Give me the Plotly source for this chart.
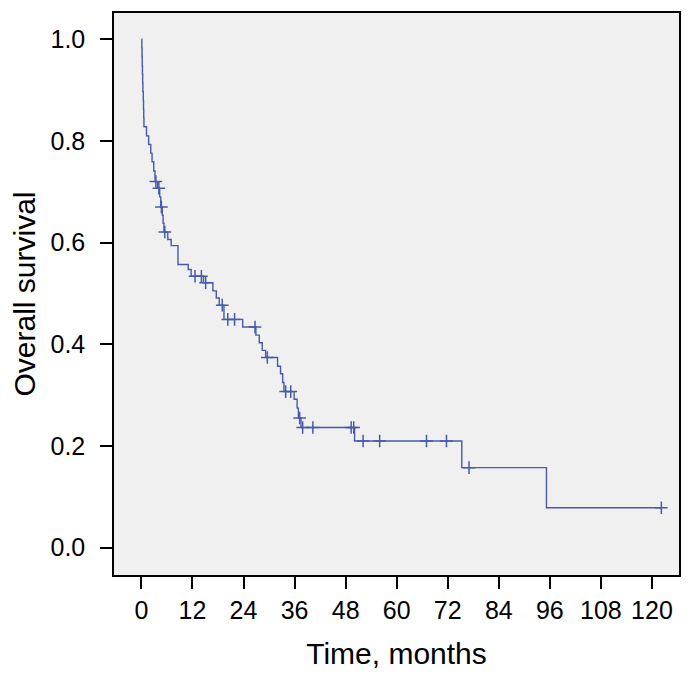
import plotly.graph_objects as go

# Kaplan-Meier step points (time in months, survival after the drop)
event_times = [0.1, 0.15, 0.2, 0.25, 0.3, 0.35, 0.45, 0.5, 0.55, 0.6,
               1.2, 1.7, 2.2, 2.5, 2.9, 3.2, 3.8, 4.3, 4.55, 4.9, 5.1, 5.3,
               6.2, 7.0, 8.6, 11.0, 11.7, 14.6, 16.8, 17.6, 18.3, 19.4,
               23.8, 26.9, 27.7, 28.4, 29.2, 32.0, 32.7, 33.2, 33.5,
               35.9, 36.6, 36.9, 37.5, 50.1, 75.3, 95.2]
event_surv = [0.983, 0.966, 0.948, 0.931, 0.914, 0.897, 0.879, 0.862, 0.845, 0.828,
              0.81, 0.793, 0.776, 0.759, 0.741, 0.72, 0.707, 0.69, 0.67, 0.654, 0.638, 0.621,
              0.606, 0.594, 0.557, 0.547, 0.534, 0.521, 0.505, 0.491, 0.477, 0.449,
              0.434, 0.418, 0.403, 0.388, 0.374, 0.357, 0.342, 0.325, 0.307,
              0.292, 0.2745, 0.255, 0.2365, 0.2098, 0.1574, 0.0787]

# Censored observations
censor_times = [3.4, 4.1, 4.7, 5.5, 12.6, 14.1, 15.1, 19.0, 20.3, 21.9, 26.7,
                29.6, 33.9, 35.1, 37.2, 37.9, 40.3, 49.3, 49.9,
                52.1, 56.0, 67.0, 71.7, 77.0, 122.2]
censor_surv = [0.72, 0.707, 0.67, 0.621, 0.534, 0.534, 0.521, 0.477, 0.449, 0.449, 0.434,
               0.374, 0.307, 0.307, 0.255, 0.2365, 0.2365, 0.2365, 0.2365,
               0.2098, 0.2098, 0.2098, 0.2098, 0.1574, 0.0787]

x_ticks = [0, 12, 24, 36, 48, 60, 72, 84, 96, 108, 120]
y_ticks = [0.0, 0.2, 0.4, 0.6, 0.8, 1.0]

line_color = "#4659ad"
font_family = "Liberation Sans, Arial, Helvetica, sans-serif"

curve_x = [0] + event_times + [max(censor_times)]
curve_y = [1.0] + event_surv + [event_surv[-1]]

fig = go.Figure()
fig.add_trace(go.Scatter(x=curve_x, y=curve_y, mode="lines", line_shape="hv",
                         line=dict(color=line_color, width=1.4), showlegend=False,
                         hoverinfo="skip"))
fig.add_trace(go.Scatter(x=censor_times, y=censor_surv, mode="markers",
                         marker=dict(symbol="cross-thin", size=9,
                                     line=dict(color=line_color, width=1.5)),
                         showlegend=False))

# the page body adds an 8px margin, so the figure is sized/margined to compensate
fig.update_layout(
    width=690, height=670,
    margin=dict(l=106, r=19, t=3, b=103),
    paper_bgcolor="white", plot_bgcolor="#f0f0f0",
    font=dict(family=font_family, size=25, color="black"),
)
fig.update_xaxes(range=[-6.44, 126.35], tickvals=x_ticks, ticktext=[str(v) for v in x_ticks],
                 showgrid=False, zeroline=False, showline=True, mirror=True,
                 linecolor="black", linewidth=1.5, ticks="outside", ticklen=12,
                 tickwidth=1.5, tickcolor="black", ticklabelstandoff=0,
                 title=dict(text="Time, months", standoff=20))
fig.update_yaxes(range=[-0.0537, 1.0516], tickvals=y_ticks,
                 ticktext=[f"{v:.1f}" for v in y_ticks],
                 showgrid=False, zeroline=False, showline=True, mirror=True,
                 linecolor="black", linewidth=1.5, ticks="outside", ticklen=12,
                 tickwidth=1.5, tickcolor="black", ticklabelstandoff=10,
                 title=dict(text="Overall survival", standoff=10))

fig.write_html("out.html")
